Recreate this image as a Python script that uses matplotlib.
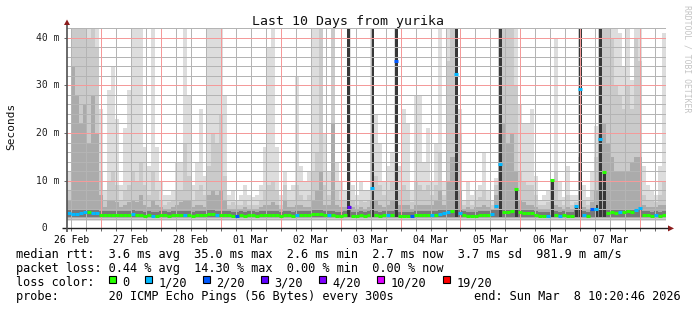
import matplotlib
matplotlib.use("Agg")
import matplotlib.pyplot as plt
from matplotlib.patches import Rectangle, Polygon
import numpy as np

W, H = 697, 310
MONO = "DejaVu Sans Mono"

# ---- data (one column = 1.6 h) ----
smoke_max = [12, 45, 45, 45, 45, 45, 45, 45, 25, 8,
             29, 34, 23, 9, 21, 29, 45, 45, 45, 17,
             13, 45, 17, 10, 7, 7, 8, 14, 14, 45,
             28, 9, 14, 25, 11, 45, 45, 45, 45, 28,
             7, 8, 6, 7, 9, 7, 6.5, 7, 9, 17,
             38, 45, 17, 7, 12, 8, 9, 32, 13, 10,
             12, 45, 45, 45, 20, 12, 45, 14, 10, 8,
             45, 9, 7, 10, 8, 8, 45, 24, 18, 10,
             13, 16, 45, 13, 25, 22, 8, 28, 28, 14,
             21, 10, 18, 45, 10, 45, 45, 45, 25, 6,
             10, 7, 8, 9, 16, 8, 6, 10.5, 45, 45,
             45, 45, 45, 26, 22, 22, 25, 11, 6, 7,
             8, 10, 40, 10, 6.5, 13, 7, 7, 45, 9,
             6.5, 12, 21.5, 45, 45, 45, 45, 45, 41, 34,
             45, 31, 45, 45, 13, 9, 8, 7, 13, 41]
smoke_p90 = [8, 45, 45, 42, 45, 40, 45, 38, 12, 6,
             10, 12, 9, 6, 8, 9, 12, 10, 14, 9,
             7, 12, 8, 6, 5, 5.5, 6, 8, 8, 18,
             11, 6, 8, 9, 7, 13, 20, 18, 24, 11,
             5, 5.5, 5, 5, 6, 5, 5, 5, 6, 8,
             9, 10, 8, 5, 9, 6, 6, 9, 7, 6,
             7, 12, 16, 45, 9, 7, 45, 8, 6, 6,
             10, 6, 5, 6, 5.5, 6, 20, 11, 9, 7,
             8, 10, 14, 8, 9, 8, 5.5, 10, 9, 8,
             9, 7, 9, 16, 7, 35, 45, 45, 20, 5,
             6, 5, 6, 6.5, 8, 6, 5, 9, 45, 45,
             45, 45, 30, 12, 10, 9, 9, 7, 5, 5,
             5.5, 8, 12, 6, 5, 7, 5, 5.5, 45, 6,
             5, 8, 15, 45, 45, 45, 40, 30, 28, 25,
             30, 25, 40, 35, 7, 6, 6, 5.5, 7, 10]
smoke_p75 = [6, 34, 28, 22, 26, 18, 28, 20, 7, 4.5,
             6, 6, 5.5, 4.5, 5, 5.5, 6, 5.5, 7, 5,
             4.5, 6, 5, 4.5, 4, 4, 4.5, 5, 5.5, 6,
             6, 4.5, 5, 5, 4.5, 7, 8, 7, 8, 6,
             4, 4, 4, 4, 4.5, 4, 4, 4, 4.5, 5,
             5, 5.5, 5, 4, 6, 4.5, 4.5, 5, 5, 4.5,
             4.5, 6, 8, 12, 5, 5, 22, 5, 4.5, 4.5,
             5, 4.5, 4, 4.5, 4, 4.5, 6, 6, 5, 4.5,
             5, 6, 6, 5, 5, 5, 4, 5, 5, 5,
             5, 5, 6, 8, 5, 10, 15, 15, 8, 4,
             4.5, 4, 4.5, 4.5, 5, 4.5, 4, 7, 20, 22,
             18, 20, 12, 6, 5.5, 5, 5, 4.5, 4, 4,
             4, 7, 5, 4.5, 4, 4.5, 4, 4.5, 15, 4.5,
             4, 5.5, 8, 20, 22, 18, 15, 12, 12, 12,
             12, 14, 15, 15, 5, 4.5, 4.5, 4.5, 5, 5]
smoke_dark = [0] * 70 + [45, 0, 0, 0, 0, 0, 45, 0, 0, 0,
                         0, 0, 45, 0, 0, 0, 0, 0, 0, 0,
                         0, 0, 0, 0, 0, 0, 0, 45, 0, 0,
                         0, 0, 0, 0, 0, 0, 0, 0, 45, 0,
                         0, 0, 8.2, 0, 0, 0, 0, 0, 0, 0,
                         0, 10.2, 0, 0, 0, 0, 0, 5, 45, 0,
                         0, 0, 5, 45, 11.8, 0, 0, 0, 0, 0,
                         0, 0, 0, 0, 0, 0, 0, 0, 0, 0]
median_ms = [3.2, 3.0, 3.1, 3.3, 3.4, 3.5, 3.3, 3.3, 2.9, 2.8,
             2.8, 2.8, 2.8, 2.8, 2.8, 2.9, 3.0, 2.8, 2.8, 2.7,
             2.8, 2.7, 2.7, 2.8, 2.8, 2.7, 2.8, 2.8, 2.8, 2.8,
             2.8, 2.7, 2.8, 2.8, 2.9, 3.0, 3.1, 2.9, 2.9, 2.8,
             2.8, 2.7, 2.7, 2.8, 2.7, 2.8, 2.8, 2.7, 2.8, 2.8,
             2.8, 2.9, 2.8, 2.7, 2.8, 2.8, 2.7, 2.8, 2.8, 2.8,
             2.9, 3.0, 3.1, 3.0, 2.8, 2.8, 2.9, 2.7, 2.7, 2.8,
             4.5, 2.7, 2.7, 2.8, 2.7, 2.8, 8.4, 2.8, 2.7, 2.8,
             2.9, 2.8, 35.0, 2.7, 2.7, 2.7, 2.7, 2.8, 2.8, 2.8,
             2.8, 2.8, 2.9, 3.0, 3.3, 3.5, 3.7, 32.4, 3.2, 2.8,
             2.7, 2.6, 2.7, 2.8, 2.8, 2.8, 3.0, 4.7, 13.4, 3.5,
             3.5, 3.6, 8.2, 3.5, 3.3, 3.2, 3.2, 2.9, 2.7, 2.6,
             2.7, 10.2, 2.8, 2.6, 2.8, 2.7, 2.6, 4.6, 29.2, 2.9,
             2.7, 4.0, 4.0, 18.7, 11.8, 3.3, 3.4, 3.3, 3.4, 3.5,
             3.6, 3.5, 3.8, 4.3, 2.8, 2.8, 2.7, 2.8, 2.6, 2.8]
loss_idx = [1, 1, 1, 1, 1, 0, 1, 1, 0, 0,
            0, 0, 0, 0, 0, 0, 1, 0, 0, 0,
            0, 1, 0, 0, 0, 0, 0, 0, 0, 1,
            0, 0, 0, 0, 0, 0, 0, 1, 0, 0,
            0, 0, 2, 0, 0, 0, 0, 0, 0, 0,
            0, 0, 0, 0, 0, 0, 0, 1, 0, 0,
            0, 0, 0, 0, 0, 1, 0, 0, 0, 0,
            3, 0, 0, 0, 0, 0, 1, 0, 0, 0,
            1, 0, 2, 0, 0, 0, 2, 0, 0, 0,
            0, 1, 0, 1, 1, 1, 0, 1, 1, 0,
            0, 0, 0, 0, 0, 0, 1, 1, 1, 0,
            0, 0, 0, 0, 0, 0, 0, 0, 0, 0,
            1, 0, 0, 1, 0, 0, 0, 1, 1, 1,
            0, 2, 1, 1, 0, 0, 0, 0, 1, 0,
            0, 0, 1, 1, 0, 0, 0, 1, 0, 0]

loss_labels = ["0", "1/20", "2/20", "3/20", "4/20", "10/20", "19/20"]
loss_colors = ["#26ff00", "#00b8ff", "#0059ff", "#5e00ff", "#7e00ff", "#dd00ff", "#ff0000"]
day_labels = ["26 Feb", "27 Feb", "28 Feb", "01 Mar", "02 Mar",
              "03 Mar", "04 Mar", "05 Mar", "06 Mar", "07 Mar"]
y_ticks = [0, 10, 20, 30, 40]
y_tick_labels = [" 0", "10 m", "20 m", "30 m", "40 m"]

title = "Last 10 Days from yurika"
stat_rtt = "median rtt:  3.6 ms avg  35.0 ms max  2.6 ms min  2.7 ms now  3.7 ms sd  981.9 m am/s"
stat_loss = "packet loss: 0.44 % avg  14.30 % max  0.00 % min  0.00 % now"
probe_txt = "probe:       20 ICMP Echo Pings (56 Bytes) every 300s"
end_txt = "end: Sun Mar  8 10:20:46 2026"

span_h = 240.0
step_h = 1.6
first_midnight = 13.654   # hours from graph start to 27 Feb 00:00
y_top = 42.0

# ---- figure ----
fig = plt.figure(figsize=(W / 100, H / 100), dpi=100, facecolor="white")
ax_l, ax_r, ax_b, ax_t = 67, 666, 228.4, 28
ax = fig.add_axes([ax_l / W, 1 - ax_b / H, (ax_r - ax_l) / W, (ax_b - ax_t) / H])
ax.set_xlim(0, span_h)
ax.set_ylim(0, y_top)
for s in ax.spines.values():
    s.set_visible(False)

t = np.arange(len(median_ms)) * step_h
mx = np.array(smoke_max, float)
p90 = np.array(smoke_p90, float)
p75 = np.array(smoke_p75, float)
med = np.array(median_ms, float)
dark = np.array(smoke_dark, float)

kw = dict(width=step_h, align="edge", linewidth=0, antialiased=False)
ax.bar(t, mx - 1.6, bottom=1.6, color="#dddddd", zorder=1, **kw)
ax.bar(t, p90 - 1.9, bottom=1.9, color="#cacaca", zorder=1.1, **kw)
ax.bar(t, p75 - 2.1, bottom=2.1, color="#ababab", zorder=1.2, **kw)
low = np.minimum(med, 3.3)
ax.bar(t, low + 0.8 - 2.3, bottom=2.3, color="#787878", zorder=1.3, **kw)
sel = dark > 0
ax.bar(t[sel] + 0.15 * step_h, dark[sel] - 2.4, bottom=2.4, width=0.7 * step_h,
       align="edge", linewidth=0, antialiased=False, color="#383838", zorder=1.4)

# grid (dotted, drawn over the smoke like rrdtool does)
dot = (0, (1, 1))
gkw = dict(lw=0.72, ls=dot, antialiased=False)
majors = np.arange(first_midnight, span_h, 24)
minors = [x for x in np.arange(first_midnight - 12, span_h, 6)
          if min(abs(x - majors)) > 0.1]
for x in minors:
    ax.axvline(x, color="#b4b4b4", zorder=2, **gkw)
for y in range(2, 43, 2):
    if y % 10:
        ax.axhline(y, color="#b4b4b4", zorder=2, **gkw)
for x in majors:
    ax.axvline(x, color="#f49a9a", zorder=2.1, **gkw)
for y in y_ticks[1:]:
    ax.axhline(y, color="#f49a9a", zorder=2.1, **gkw)

# median line coloured by loss
ax.hlines(med, t, t + step_h, colors=[loss_colors[i] for i in loss_idx],
          lw=2.2, zorder=4)

# ticks
noon = np.arange(first_midnight - 12, span_h, 24)
ax.set_xticks(noon, day_labels, fontsize=7, family=MONO)
ax.set_xticks(np.arange(first_midnight - 12, span_h, 6), minor=True)
ax.tick_params(axis="x", which="both", length=2.5, width=0.7, color="#666666",
               pad=2.5, direction="out")
ax.set_yticks(y_ticks, [""] * len(y_ticks))
ax.tick_params(axis="y", length=2, width=0.7, color="#666666")
for v, lab in zip(y_ticks, y_tick_labels):
    ax.text((35.5 - ax_l) / (ax_r - ax_l), v, lab, transform=ax.get_yaxis_transform(),
            ha="left", va="center", fontsize=7, family=MONO, color="#202020")

# overlay in pixel coordinates for frame and legend
ov = fig.add_axes([0, 0, 1, 1])
ov.set_xlim(0, W)
ov.set_ylim(H, 0)
ov.axis("off")
ov.patch.set_alpha(0)

ov.plot([62, 668], [ax_b, ax_b], color="#202020", lw=1.0, solid_capstyle="butt")
ov.plot([ax_l, ax_l], [232, 25], color="#505050", lw=1.2, solid_capstyle="butt")
ov.add_patch(Polygon([[668, ax_b - 3], [668, ax_b + 3], [674, ax_b]], closed=True,
                     color="#8c1c1c", lw=0))
ov.add_patch(Polygon([[ax_l - 3, 25], [ax_l + 3, 25], [ax_l, 19.5]], closed=True,
                     color="#8c1c1c", lw=0))

ov.text(347.5, 24.5, title, ha="center", va="baseline", fontsize=9.5, family=MONO,
        color="#101010")
ov.text(11, 126, "Seconds", rotation=90, ha="center", va="center", fontsize=8,
        family=MONO, color="#101010")
ov.text(687, 59, "RRDTOOL / TOBI OETIKER", rotation=270, ha="center", va="center",
        fontsize=5.9, family=MONO, color="#c4c4c4")

fs = 8.6
ov.text(15.5, 258.3, stat_rtt, ha="left", va="baseline", fontsize=fs, family=MONO)
ov.text(15.5, 272.3, stat_loss, ha="left", va="baseline", fontsize=fs, family=MONO)
ov.text(15.5, 286.2, "loss color:", ha="left", va="baseline", fontsize=fs, family=MONO)
ov.text(15.5, 300.2, probe_txt, ha="left", va="baseline", fontsize=fs, family=MONO)
ov.text(681, 300.2, end_txt, ha="right", va="baseline", fontsize=fs, family=MONO)

pos = 13
lcw = 7.26
for lab, col in zip(loss_labels, loss_colors):
    bx = 108.7 + (pos - 13) * lcw
    ov.add_patch(Rectangle((bx, 275.7), 7, 7, facecolor=col, edgecolor="black", lw=0.8))
    ov.text(bx + 2 * lcw - 1, 286.2, lab, ha="left", va="baseline", fontsize=fs,
            family=MONO)
    pos += 2 + len(lab) + 2

fig.savefig("out.png", dpi=100, facecolor="white")
